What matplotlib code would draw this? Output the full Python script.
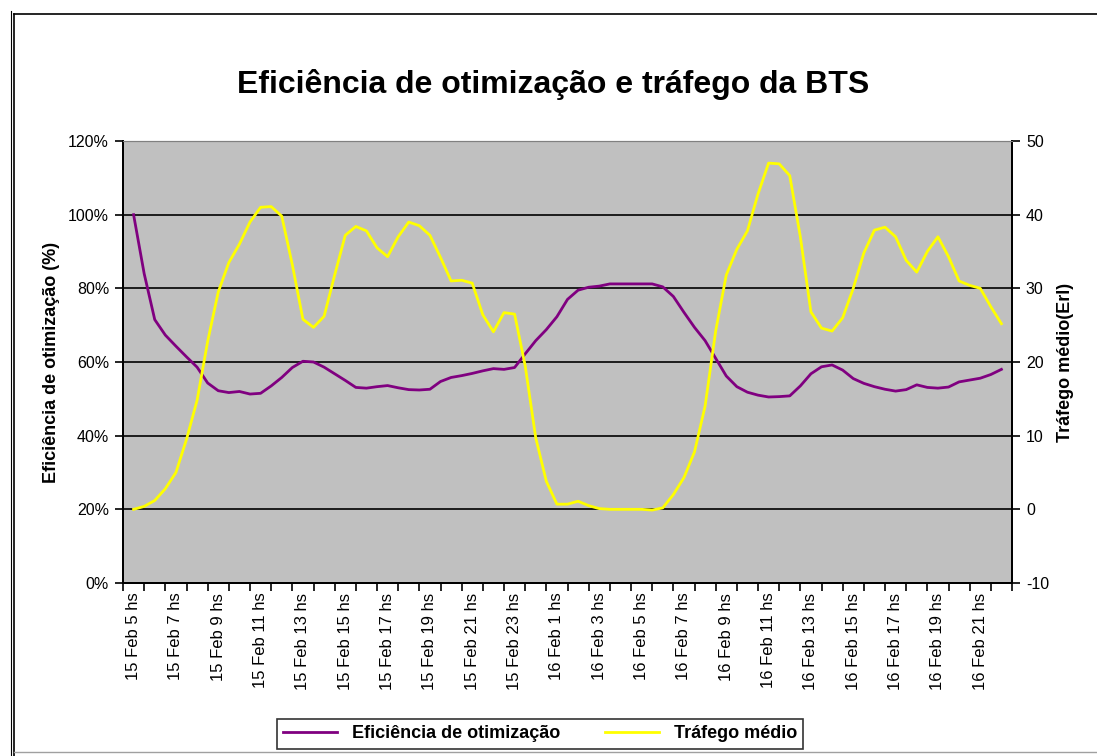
import numpy as np
import matplotlib
matplotlib.use("Agg")
import matplotlib.pyplot as plt
from matplotlib.lines import Line2D
from matplotlib.ticker import FixedLocator, FuncFormatter

plt.rcParams['font.family'] = ['Liberation Sans', 'DejaVu Sans']
plt.rcParams['axes.unicode_minus'] = False

# hourly categories, 15 Feb 5 hs .. 16 Feb 22 hs
days = [15] * 19 + [16] * 23
hours = list(range(5, 24)) + list(range(0, 23))
cat_labels = [f"{d} Feb {h} hs" for d, h in zip(days, hours)]

# readings every half hour (position in category units = index / 2)
eficiencia = [100, 84, 71.5, 67.3, 64.3, 61.4, 58.6, 54.3, 52.2, 51.7,
              52, 51.3, 51.5, 53.5, 55.8, 58.5, 60.2, 60, 58.6, 56.8,
              55, 53.1, 52.9, 53.3, 53.6, 53, 52.5, 52.4, 52.6, 54.7,
              55.8, 56.3, 56.9, 57.6, 58.2, 58, 58.5, 62.2, 65.8, 68.8,
              72.3, 77, 79.5, 80.3, 80.6, 81.2, 81.2, 81.2, 81.2, 81.2,
              80.4, 77.8, 73.5, 69.4, 65.8, 61, 56.2, 53.3, 51.8, 51,
              50.5, 50.6, 50.8, 53.5, 56.8, 58.7, 59.2, 57.8, 55.5, 54.2,
              53.3, 52.6, 52.1, 52.5, 53.8, 53.1, 52.9, 53.2, 54.6, 55.1,
              55.6, 56.6, 58]
trafego = [0, 0.4, 1.2, 2.8, 5, 9.5, 14.8, 22.8, 29.5, 33.5,
           36, 39, 41, 41.1, 39.8, 33.2, 25.8, 24.7, 26.2, 31.8,
           37.2, 38.4, 37.8, 35.5, 34.3, 37, 39, 38.5, 37.2, 34.2,
           31, 31.1, 30.7, 26.4, 24.1, 26.7, 26.5, 19.5, 9.7, 3.8,
           0.7, 0.7, 1.1, 0.5, 0.1, 0, 0, 0, 0, -0.1,
           0.2, 2, 4.3, 7.8, 14, 24.2, 31.8, 35.3, 37.8, 42.8,
           47, 46.9, 45.3, 37, 26.8, 24.6, 24.2, 26, 30, 34.8,
           37.9, 38.3, 37, 33.8, 32.2, 35, 37, 34.3, 31, 30.4,
           30, 27.5, 25.2]

x = np.arange(len(eficiencia)) / 2.0
purple = '#800080'
yellow = '#FFFF00'

fig = plt.figure(figsize=(10.97, 7.56), dpi=100)
W, H = 1097, 756

# outer frame of the chart area
fig.add_artist(Line2D([14 / W, 14 / W], [0, 1 - 14 / H], color='black', lw=1.2, transform=fig.transFigure))
fig.add_artist(Line2D([11 / W, 11 / W], [0, 1 - 11 / H], color='black', lw=0.8, transform=fig.transFigure))
fig.add_artist(Line2D([14 / W, 1], [1 - 14 / H, 1 - 14 / H], color='black', lw=1.2, transform=fig.transFigure))
fig.add_artist(Line2D([14 / W, 1], [4 / H, 4 / H], color='#a0a0a0', lw=1.0, transform=fig.transFigure))

ax = fig.add_axes([123 / W, 1 - 583 / H, (1012 - 123) / W, (583 - 141) / H])
ax.set_facecolor('#C0C0C0')
ax.set_zorder(1)

ax.set_ylim(0, 120)
ax.set_yticks(np.arange(0, 121, 20))
ax.yaxis.set_major_formatter(FuncFormatter(lambda v, p: f"{v:.0f}%"))
ax.grid(axis='y', color='black', lw=1.2)
ax.set_axisbelow(True)

ax.set_xlim(-0.5, len(cat_labels) - 0.5)
ax.xaxis.set_major_locator(FixedLocator(np.arange(0, len(cat_labels), 2)))
ax.set_xticklabels(cat_labels[::2], rotation=90, fontsize=12)
ax.xaxis.set_minor_locator(FixedLocator(np.arange(-0.5, len(cat_labels), 1)))
ax.tick_params(axis='x', which='major', length=0, pad=7)
ax.tick_params(axis='x', which='minor', length=6, width=1.2, direction='out', color='black')
ax.tick_params(axis='y', length=6, width=1.2, direction='out', labelsize=11.5, pad=4)

for s in ['left', 'bottom', 'right']:
    ax.spines[s].set_color('black')
    ax.spines[s].set_linewidth(1.4)
ax.spines['top'].set_color('#808080')

ln1, = ax.plot(x, eficiencia, color=purple, lw=2.0, zorder=3)
ax.set_ylabel('Eficiência de otimização (%)', fontsize=13, fontweight='bold', labelpad=6)

ax2 = ax.twinx()
ax2.set_zorder(2)
ax2.patch.set_visible(False)
ax2.set_ylim(-10, 50)
ax2.set_yticks(np.arange(-10, 51, 10))
ax2.tick_params(axis='y', length=6, width=1.2, direction='out', labelsize=11.5, pad=4)
for s in ['left', 'bottom', 'right']:
    ax2.spines[s].set_color('black')
    ax2.spines[s].set_linewidth(1.4)
ax2.spines['top'].set_color('#808080')
ln2, = ax2.plot(x, trafego, color=yellow, lw=2.0, zorder=3)
ax2.set_ylabel('Tráfego médio(Erl)', fontsize=13, fontweight='bold', labelpad=6)

fig.text(553 / W, 1 - 85 / H, 'Eficiência de otimização e tráfego da BTS',
         ha='center', va='center', fontsize=23, fontweight='bold')

leg = fig.legend([ln1, ln2], ['Eficiência de otimização', 'Tráfego médio'],
                 loc='center', bbox_to_anchor=(540 / W, 1 - 734 / H), ncol=2,
                 frameon=True, fancybox=False, edgecolor='black',
                 prop={'weight': 'bold', 'size': 13}, handlelength=3,
                 columnspacing=2.5, borderpad=0.35)
leg.get_frame().set_linewidth(1.2)

fig.savefig('out.png', dpi=100)
